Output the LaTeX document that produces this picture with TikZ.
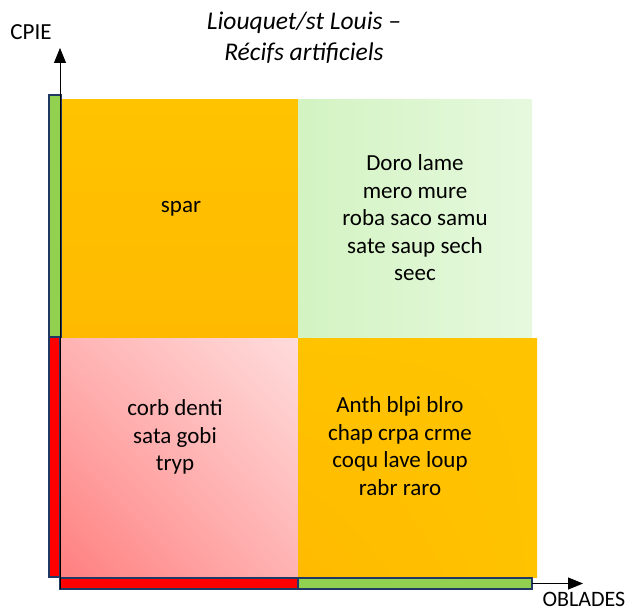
\documentclass[tikz,border=0pt]{standalone}
\usepackage{fontspec}
\setmainfont{Carlito}
\usepackage{xcolor}
\definecolor{qGold}{HTML}{FFC300}
\definecolor{qGoldDark}{HTML}{FFBA00}
\definecolor{qGreenLight}{HTML}{D3F3C2}
\definecolor{qGreenPale}{HTML}{E6F9DE}
\definecolor{qRedSoft}{HTML}{FF7F7F}
\definecolor{qRedPale}{HTML}{FFDCDC}
\definecolor{qRedMid}{HTML}{FFB3B3}
\definecolor{barGreen}{HTML}{92D050}
\definecolor{barRed}{HTML}{FF0000}
\definecolor{barEdge}{HTML}{203864}
\usetikzlibrary{positioning,arrows.meta,calc,shadings}

\begin{document}
\begin{tikzpicture}[x=1pt, y=-1pt,
  font=\fontsize{23}{27.5}\selectfont,
  quad/.style={inner sep=0pt, outer sep=0pt, minimum width=#1},
  bar/.style={draw=barEdge, line width=1.5pt},
  axis/.style={line width=0.8pt, -{Triangle[length=15pt, width=12pt]}}]
\useasboundingbox (0,0) rectangle (634,612);
% quadrants
\node[quad=238pt, minimum height=238pt, lower left=qGoldDark, upper right=qGold, upper left=qGold, lower right=qGoldDark] (tl) at (179,219) {};
\node[quad=234pt, minimum height=238pt, left color=qGreenLight, right color=qGreenPale] (tr) at (415,219) {};
\node[quad=238pt, minimum height=239pt, lower left=qRedSoft, upper right=qRedPale, upper left=qRedMid, lower right=qRedMid] (bl) at (179,457.5) {};
\node[quad=239pt, minimum height=239pt, lower left=qGoldDark, upper right=qGold, upper left=qGold, lower right=qGold] (br) at (417.5,457.5) {};
% species lists
\node[align=center] (sp1) at (181,209) {spar};
\node[align=center] (sp2) at (415,218) {Doro lame\\mero mure\\roba saco samu\\sate saup sech\\seec};
\node[align=center] (sp3) at (175,437) {corb denti\\sata gobi\\tryp};
\node[align=center] (sp4) at (400,446) {Anth blpi blro\\chap crpa crme\\coqu lave loup\\rabr raro};
% bars
\filldraw[bar, fill=barGreen] (49,95) rectangle (61,337);
\filldraw[bar, fill=barRed] (49,337) rectangle (60,577);
\filldraw[bar, fill=barRed] (60,578) rectangle (298,589);
\filldraw[bar, fill=barGreen] (298,578) rectangle (532,589);
% axes
\coordinate (o) at (60,589);
\coordinate (ytip) at (60,48);
\coordinate (xs) at (532,583.5);
\coordinate (xtip) at (583,583.5);
\draw[axis] (o) -- (ytip);
\draw[axis] (xs) -- (xtip);
\node (ylab) at (31,32) {CPIE};
\node[font=\fontsize{22}{26}\selectfont] (xlab) at (584,599) {OBLADES};
\node[align=center, font=\fontsize{25.5}{31}\selectfont\itshape] (title) at (304,38) {Liouquet/st Louis --\\Récifs artificiels};
\end{tikzpicture}
\end{document}
